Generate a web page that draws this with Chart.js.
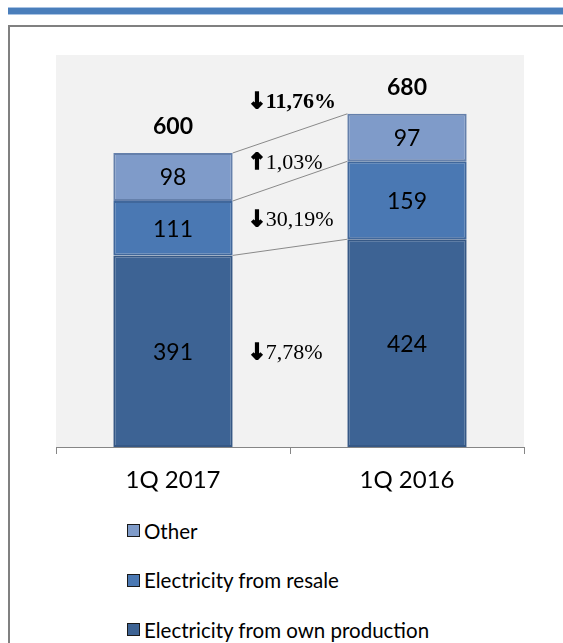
<!DOCTYPE html>
<html>
<head>
<meta charset="utf-8">
<script src="https://cdn.jsdelivr.net/npm/chart.js@4.4.1/dist/chart.umd.min.js"></script>
<style>
  body { margin: 0; background: #fff; width: 563px; height: 643px; overflow: hidden; position: relative; }
  .band { position: absolute; left: 8px; right: 0; top: 7px; height: 6px; background: #4a7ebb; border-top: 1px solid #a9c3e3; border-bottom: 1px solid #a9c3e3; }
  .frame { position: absolute; left: 8px; top: 25px; width: 620px; height: 700px; border-left: 2px solid #808080; border-top: 2px solid #808080; }
  #wrap { position: absolute; left: 0; top: 0; width: 563px; height: 505px; }
  #legend { position: absolute; left: 127px; top: 506px; font-family: Lato; font-size: 20.5px; color: #000; }
  #legend .item { height: 49.5px; display: flex; align-items: center; }
  #legend .box { width: 13px; height: 13px; border: 1px solid #1a1a1a; margin-right: 4px; box-sizing: border-box; }
</style>
</head>
<body>
<div class="band"></div>
<div class="frame"></div>
<div id="wrap"><canvas id="chart" width="563" height="505"></canvas></div>
<div id="legend"></div>
<script>
const categories = ['1Q 2017', '1Q 2016'];
const ownProduction = [391, 424];
const resale = [111, 159];
const other = [98, 97];
const seriesNames = ['Electricity from own production', 'Electricity from resale', 'Other'];

const totals = categories.map((c, i) => ownProduction[i] + resale[i] + other[i]);

Chart.defaults.font.family = 'Lato';
Chart.defaults.color = '#000';

function changeText(a, b) {
    const pct = (a - b) / b * 100;
    return { arrow: pct < 0 ? '\u2193' : '\u2191', text: Math.abs(pct).toFixed(2).replace('.', ',') + '%' };
}

const plotBg = {
    id: 'plotBg',
    beforeDraw(chart) {
        const a = chart.chartArea;
        chart.ctx.save();
        chart.ctx.fillStyle = '#f2f2f2';
        chart.ctx.fillRect(a.left, a.top, a.right - a.left, a.bottom - a.top);
        chart.ctx.restore();
    }
};

const extras = {
    id: 'extras',
    afterDatasetsDraw(chart) {
        const ctx = chart.ctx;
        const sets = chart.data.datasets;
        ctx.save();

        // connector lines between the segment tops
        ctx.strokeStyle = '#8a8a8a';
        ctx.lineWidth = 1;
        sets.forEach((ds, i) => {
            const bars = chart.getDatasetMeta(i).data;
            ctx.beginPath();
            ctx.moveTo(bars[0].x + bars[0].width / 2, bars[0].y);
            ctx.lineTo(bars[1].x - bars[1].width / 2, bars[1].y);
            ctx.stroke();
        });

        // values inside the segments
        ctx.fillStyle = '#000';
        ctx.textAlign = 'center';
        ctx.textBaseline = 'middle';
        ctx.font = '23px Lato';
        sets.forEach((ds, i) => {
            chart.getDatasetMeta(i).data.forEach((bar, j) => {
                ctx.fillText(ds.data[j], bar.x, (bar.y + bar.base) / 2 + 1);
            });
        });

        // totals above the bars
        const topBars = chart.getDatasetMeta(sets.length - 1).data;
        ctx.font = 'bold 23px Lato';
        topBars.forEach((bar, j) => ctx.fillText(totals[j], bar.x, bar.y - 26));

        // change labels between the bars
        const x0 = chart.getDatasetMeta(0).data[0];
        const left = x0.x + x0.width / 2 + 16;
        ctx.textAlign = 'left';
        ctx.strokeStyle = '#000';
        ctx.lineWidth = 1.6;
        function drawChange(c, y, bold) {
            ctx.font = 'bold 22px "DejaVu Sans"';
            ctx.fillText(c.arrow, left - 1, y);
            ctx.strokeText(c.arrow, left - 1, y);
            ctx.font = (bold ? 'bold ' : '') + '22px "Liberation Serif"';
            ctx.fillText(c.text, left + 17, y);
        }
        sets.forEach((ds, i) => {
            const bars = chart.getDatasetMeta(i).data;
            const y = ((bars[0].y + bars[0].base) / 2 + (bars[1].y + bars[1].base) / 2) / 2 + 6;
            drawChange(changeText(ds.data[0], ds.data[1]), y, false);
        });
        drawChange(changeText(totals[0], totals[1]), (topBars[0].y + topBars[1].y) / 2 - 31, true);

        ctx.restore();
    }
};

const chart = new Chart(document.getElementById('chart'), {
    type: 'bar',
    data: {
        labels: categories,
        datasets: [
            { label: seriesNames[0], data: ownProduction, backgroundColor: '#3d6394', borderColor: '#365885' },
            { label: seriesNames[1], data: resale, backgroundColor: '#4a78b3', borderColor: '#40679b' },
            { label: seriesNames[2], data: other, backgroundColor: '#7f9bc9', borderColor: '#6580ab' }
        ]
    },
    options: {
        responsive: false,
        animation: false,
        devicePixelRatio: 1,
        datasets: { bar: { categoryPercentage: 1, barPercentage: 0.51, borderWidth: 2, borderSkipped: false } },
        layout: { padding: { left: 56, right: 39, top: 55, bottom: 0 } },
        plugins: { legend: { display: false }, tooltip: { enabled: false } },
        scales: {
            x: {
                stacked: true,
                grid: { display: true, drawOnChartArea: false, drawTicks: true, tickLength: 7, color: '#868686', offset: true },
                border: { display: true, color: '#868686' },
                ticks: { color: '#000', font: { size: 24 }, padding: 12 },
                afterFit(scale) { scale.height = 58; }
            },
            y: { stacked: true, display: false, min: 0, max: 800 }
        }
    },
    plugins: [plotBg, extras]
});

// vertical legend, top series first
const legend = document.getElementById('legend');
chart.data.datasets.slice().reverse().forEach(ds => {
    const item = document.createElement('div');
    item.className = 'item';
    const box = document.createElement('span');
    box.className = 'box';
    box.style.background = ds.backgroundColor;
    item.appendChild(box);
    item.appendChild(document.createTextNode(ds.label));
    legend.appendChild(item);
});
</script>
</body>
</html>
